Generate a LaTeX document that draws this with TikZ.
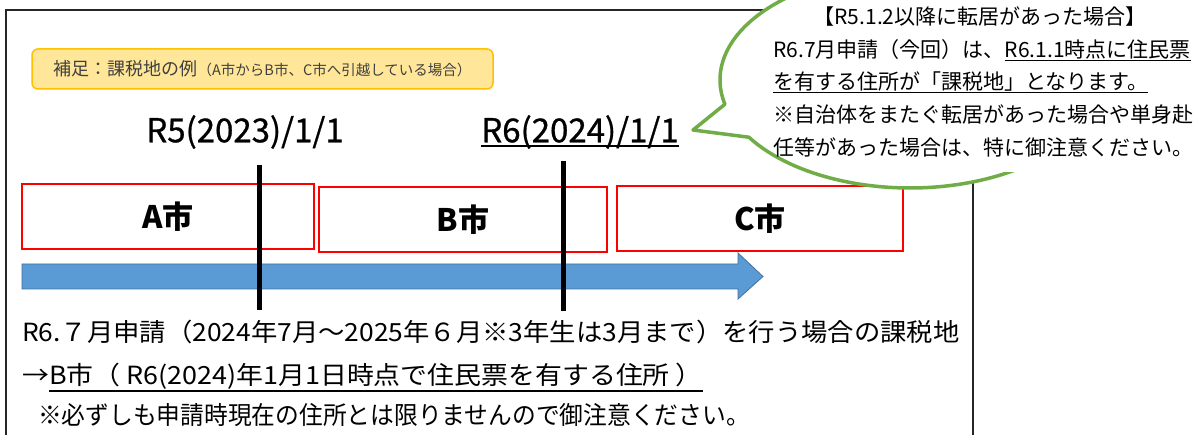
\documentclass[tikz,border=0pt]{standalone}
\usepackage{fontspec}
\usepackage{graphicx}
\setmainfont{Noto Sans CJK JP}
\newfontfamily\jpfb{Noto Sans CJK JP}[FakeBold=0.8]
\usetikzlibrary{calc,fadings}
\definecolor{ybox}{HTML}{FFE699}
\definecolor{yedge}{HTML}{FFC000}
\definecolor{bluearr}{HTML}{5B9BD5}
\definecolor{blueedge}{HTML}{41719C}
\definecolor{bubgreen}{HTML}{70AD47}
\definecolor{txtgray}{HTML}{404040}
\newcommand\ulx[2][0.2em]{\setbox0\hbox{#2}\rlap{\rule[-#1]{\wd0}{0.06em}}\box0}
\tikzset{
  framestyle/.style={draw=black!85, line width=1.5pt},
  notebox/.style={draw=yedge, fill=ybox, line width=1.5pt, rounded corners=6pt, text=txtgray, inner sep=0pt},
  datelabel/.style={font=\jpfb\fontsize{33}{38}\selectfont, inner sep=0pt},
  citybox/.style={draw=red, line width=2.2pt, fill=white, font=\fontsize{31}{36}\selectfont\bfseries, inner sep=0pt},
  dateline/.style={line width=5pt},
  bubble/.style={draw=bubgreen, line width=3.5pt, fill=white, line join=round},
  btext/.style={font=\fontsize{21}{25}\selectfont, inner sep=0pt, anchor=west, text height=18.5pt, text depth=2.5pt},
  bottomtext/.style={font=\fontsize{25}{30}\selectfont, inner sep=0pt, anchor=west, text height=22pt, text depth=3pt},
}
\begin{document}
\begin{tikzpicture}[x=1pt,y=1pt]
\useasboundingbox (0,0) rectangle (1193,435);
\fill[white] (0,0) rectangle (1193,435);
% outer frame
\coordinate (fbl) at (6,-5);
\coordinate (ftl) at (6,425);
\coordinate (ftr) at (973,425);
\coordinate (fbr) at (973,-5);
\draw[framestyle] (fbl) -- (ftl) -- (ftr) -- (fbr);
% note box
\node[notebox, minimum width=461pt, minimum height=40pt] (note) at (262.5,366)
  {{\fontsize{18}{22}\selectfont 補足：課税地の例}{\fontsize{14.5}{18}\selectfont （A市からB市、C市へ引越している場合）}};
% date labels
\node[datelabel] (d1) at (245,303) {R5(2023)/1/1};
\node[datelabel] (d2) at (580,303) {\ulx[0.15em]{R6(2024)/1/1}};
% city boxes
\node[citybox, minimum width=292pt, minimum height=65pt] (boxA) at (168,218.5) {A市};
\node[citybox, minimum width=288pt, minimum height=65pt] (boxB) at (463,215.5) {B市};
\node[citybox, minimum width=286pt, minimum height=65pt] (boxC) at (760,216.5) {C市};
% blue arrow
\draw[blueedge, line width=0.8pt, fill=bluearr] (22,171) -- (738,171) -- (738,182) -- (763,158.5) -- (738,136) -- (738,146) -- (22,146) -- cycle;
% date lines
\coordinate (l1t) at (259,270); \coordinate (l1b) at (259,125);
\coordinate (l2t) at (563,274); \coordinate (l2b) at (563,124);
\draw[dateline] (l1t) -- (l1b);
\draw[dateline] (l2t) -- (l2b);
% bubble
\coordinate (bc) at (910,355);
\coordinate (tip) at (693,305);
\draw[bubble] ($(bc)+(212:190 and 108)$) -- (tip) -- ($(bc)+(193:190 and 108)$)
  arc[start angle=193, end angle=-148, x radius=190, y radius=108] -- cycle;
\fill[white, path fading=west] (965,263) rectangle (1000,435);
\fill[white] (1000,263) rectangle (1193,435);
\node[btext, anchor=center] (b1) at (980,418) {【R5.1.2以降に転居があった場合】};
\node[btext] (b2) at (773,385) {R6.7月申請（今回）は、\ulx[0.15em]{R6.1.1時点に住民票}};
\node[btext] (b3) at (773,353) {\ulx[0.15em]{を有する住所が「課税地」となります。}};
\node[btext] (b4) at (773,320) {※自治体をまたぐ転居があった場合や単身赴};
\node[btext] (b5) at (773,287) {任等があった場合は、特に御注意ください。};
% bottom text
\node[bottomtext] (t1) at (22,103) {\scalebox{1.054}[1]{R6.７月申請（2024年7月～2025年６月※3年生は3月まで）を行う場合の課税地}};
\node[bottomtext] (t2) at (22,60) {\scalebox{1.076}[1]{→\ulx[0.3em]{B市（ R6(2024)年1月1日時点で住民票を有する住所 ）}}};
\node[bottomtext] (t3) at (38,20) {\scalebox{0.95}[1]{※必ずしも申請時現在の住所とは限りませんので御注意ください。}};
\end{tikzpicture}
\end{document}
